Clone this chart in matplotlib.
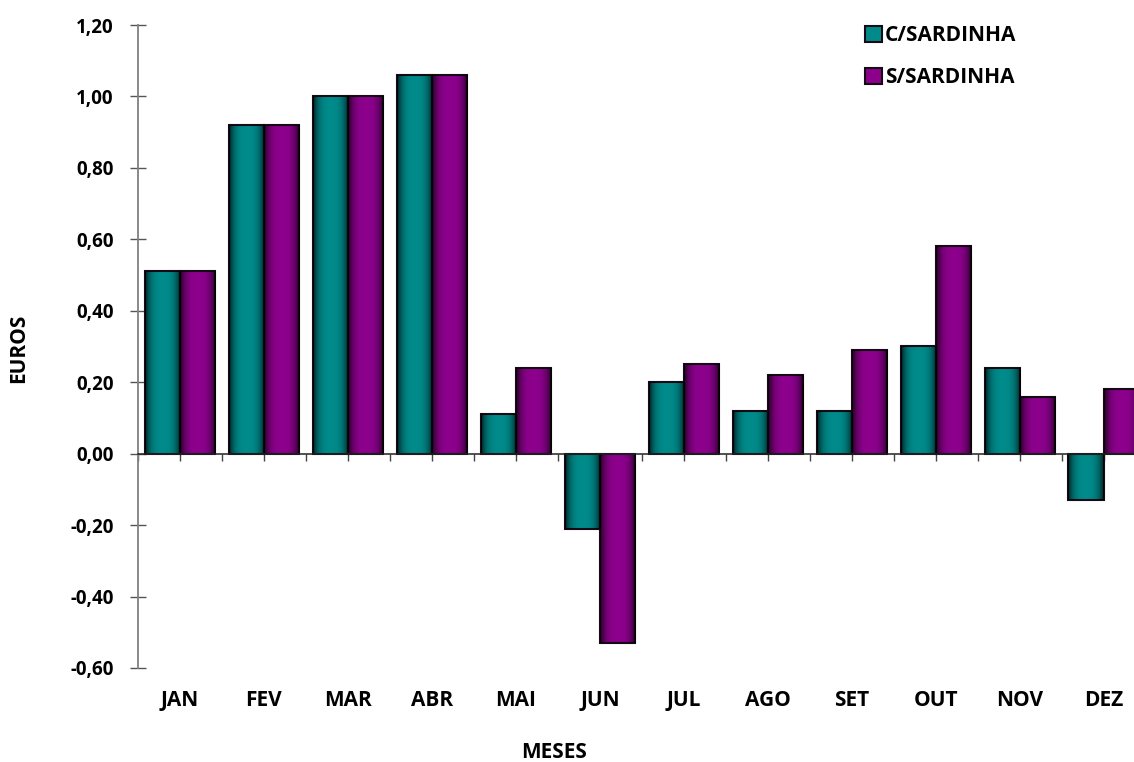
import numpy as np
import matplotlib
matplotlib.use("Agg")
import matplotlib.pyplot as plt
from matplotlib.ticker import FixedLocator, FuncFormatter

# ── data ──────────────────────────────────────────────────────────────────────
meses = ["JAN", "FEV", "MAR", "ABR", "MAI", "JUN", "JUL", "AGO", "SET", "OUT", "NOV", "DEZ"]
c_sardinha = [0.51, 0.92, 1.00, 1.06, 0.11, -0.21, 0.20, 0.12, 0.12, 0.30, 0.24, -0.13]
s_sardinha = [0.51, 0.92, 1.00, 1.06, 0.24, -0.53, 0.25, 0.22, 0.29, 0.58, 0.16, 0.18]
y_ticks = [-0.60, -0.40, -0.20, 0.00, 0.20, 0.40, 0.60, 0.80, 1.00, 1.20]

TEAL = "#008a8a"
PURPLE = "#8c008c"
EDGE = "#150a15"
LABEL_FONT = ["Open Sans", "DejaVu Sans"]

# ── figure ────────────────────────────────────────────────────────────────────
fig = plt.figure(figsize=(11.34, 7.62), dpi=100)
ax = fig.add_axes([138 / 1134, 1 - 668 / 762, 1 - 138 / 1134, (668 - 25) / 762])

x = np.arange(len(meses))
w = 0.42
bars_c = ax.bar(x - w / 2, c_sardinha, w, color=TEAL, edgecolor=EDGE,
                linewidth=1.5, label="C/SARDINHA", zorder=3)
bars_s = ax.bar(x + w / 2, s_sardinha, w, color=PURPLE, edgecolor=EDGE,
                linewidth=1.5, label="S/SARDINHA", zorder=3)

# darker sides on each bar for the bevelled look
prof = np.abs(np.linspace(-1, 1, 80)) ** 3.0
shade = np.zeros((1, prof.size, 4))
shade[0, :, 3] = 0.75 * prof
for bars in (bars_c, bars_s):
    for b in bars:
        x0, y0 = b.get_x(), b.get_y()
        bw, bh = b.get_width(), b.get_height()
        im = ax.imshow(shade, extent=(x0, x0 + bw, y0, y0 + bh), aspect="auto",
                       zorder=3.5, interpolation="bilinear")
        im.set_clip_path(b)

ax.set_xlim(-0.5, 11.36)
ax.set_ylim(-0.6, 1.2)

# axes styling
for s in ("top", "right"):
    ax.spines[s].set_visible(False)
ax.spines["left"].set_color("#808080")
ax.spines["left"].set_linewidth(1.3)
ax.spines["bottom"].set_position(("data", 0))
ax.spines["bottom"].set_color("#222222")
ax.spines["bottom"].set_linewidth(1.1)
ax.spines["bottom"].set_zorder(4)

ax.yaxis.set_major_locator(FixedLocator(y_ticks))
ax.yaxis.set_major_formatter(FuncFormatter(lambda v, _: f"{v:.2f}".replace(".", ",")))
ax.tick_params(axis="y", direction="inout", length=11, width=1, color="#555555",
               pad=12)
for lbl in ax.get_yticklabels():
    lbl.set_fontweight("bold")
    lbl.set_fontsize(13.5)
    lbl.set_family(LABEL_FONT)

ax.xaxis.set_major_locator(FixedLocator(np.arange(-0.5, 12, 1.0)))
ax.xaxis.set_minor_locator(FixedLocator(x))
ax.tick_params(axis="x", which="both", direction="out", length=5, width=1,
               color="#444444", labelbottom=False)

# month labels at the bottom
for xi, m in zip(x, meses):
    ax.text(xi, -0.0505, m, transform=ax.get_xaxis_transform(), ha="center",
            va="center", fontsize=15, fontweight="bold", family=LABEL_FONT)

fig.text(19 / 1134, 1 - 348 / 762, "EUROS", rotation=90, ha="center", va="center",
         fontsize=15, fontweight="bold", family=LABEL_FONT)
fig.text(554 / 1134, 1 - 753 / 762, "MESES", ha="center", va="center",
         fontsize=15, fontweight="bold", family=LABEL_FONT)

leg = fig.legend(handles=[bars_c, bars_s], loc="upper left",
                 bbox_to_anchor=(865 / 1134, 1 - 25 / 762), frameon=False,
                 prop={"family": LABEL_FONT, "weight": "bold", "size": 15},
                 handlelength=0.8, handleheight=0.8, handletextpad=0.15,
                 labelspacing=1.0, borderaxespad=0, borderpad=0)

fig.savefig("out.png", dpi=100)
